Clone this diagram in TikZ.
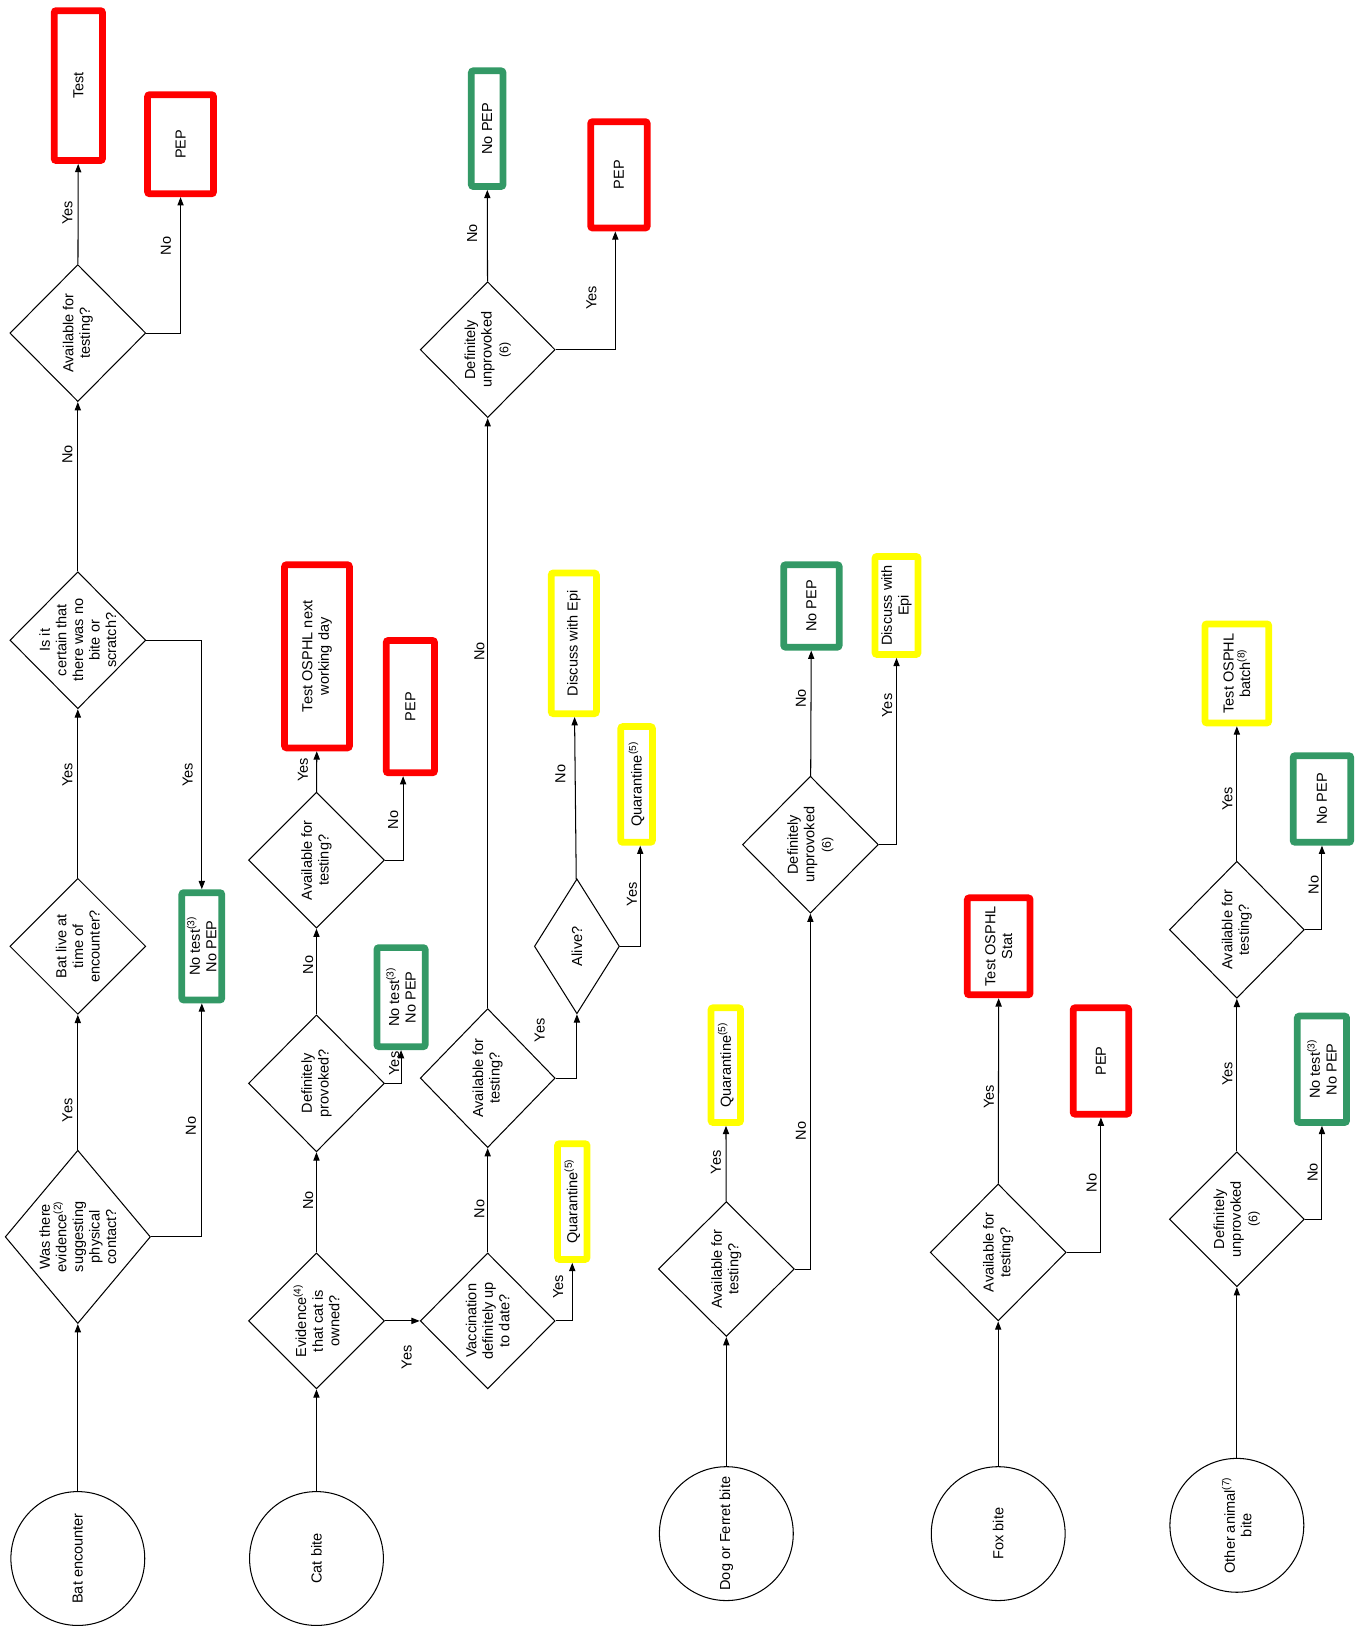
\documentclass[tikz,border=0pt]{standalone}
\usepackage{fontspec}
\setmainfont{Liberation Sans}
\usepackage{tikz}
\usetikzlibrary{arrows.meta,shapes.geometric}
\definecolor{pepred}{HTML}{FF0000}
\definecolor{nogreen}{HTML}{339966}
\definecolor{askyellow}{HTML}{FFFF00}
\newcommand{\notenum}[1]{{\fontsize{12}{14}\selectfont #1}}

\begin{document}
\begin{tikzpicture}[x=1pt,y=-1pt,font=\fontsize{14}{16}\selectfont,
  start/.style={circle,draw,line width=1pt,minimum size=129pt,inner sep=0pt,rotate=90,align=center},
  ask/.style={diamond,draw,line width=1pt,inner sep=-20pt,rotate=90,align=center},
  outcome/.style={draw,fill=white,line width=6.5pt,rounded corners=2pt,inner sep=0pt,rotate=90,align=center},
  pepbox/.style={outcome,draw=pepred},
  greenbox/.style={outcome,draw=nogreen},
  yellowbox/.style={outcome,draw=askyellow},
  lbl/.style={rotate=90,inner sep=0pt},
  arr/.style={-{Triangle[length=8pt,width=6pt]},line width=1pt}]
  \useasboundingbox (0,0) rectangle (1312,1568);

  \node[start] (bat) at (75,1502) {Bat encounter};
  \node[ask,minimum width=167,minimum height=140] (bcontact) at (75,1192) {Was there\\evidence\textsuperscript{(2)}\\suggesting\\physical\\contact?};
  \node[ask,minimum width=131,minimum height=131] (blive) at (75,912) {Bat live at\\time of\\encounter?};
  \node[ask,minimum width=132,minimum height=131] (bsure) at (75,617) {Is it\\certain that\\there was no\\bite or\\scratch?};
  \node[ask,minimum width=132,minimum height=131] (bavail) at (75,321) {Available for\\testing?};
  \node[pepbox,minimum width=144.5,minimum height=46.5] (btest) at (75.5,82.5) {Test};
  \node[pepbox,minimum width=95.5,minimum height=63.5] (bpep) at (174,139) {PEP};
  \node[greenbox,minimum width=103.5,minimum height=38.5] (bnotest) at (194.5,912) {No test\textsuperscript{(3)}\\No PEP};

  \node[start] (cat) at (305,1502) {Cat bite};
  \node[ask,minimum width=131,minimum height=131] (cowned) at (305,1273) {Evidence\textsuperscript{(4)}\\that cat is\\owned?};
  \node[ask,minimum width=132,minimum height=131] (cprov) at (305,1044) {Definitely\\provoked?};
  \node[ask,minimum width=131,minimum height=131] (cavail) at (305,829) {Available for\\testing?};
  \node[pepbox,minimum width=176.5,minimum height=62.5] (cnext) at (305.5,632.5) {Test OSPHL next\\working day};
  \node[pepbox,minimum width=127.5,minimum height=46.5] (cpep) at (395.5,681) {PEP};
  \node[greenbox,minimum width=95.5,minimum height=46.5] (cnotest) at (386.5,961) {No test\textsuperscript{(3)}\\No PEP};
  \node[ask,minimum width=131,minimum height=130] (cvacc) at (470,1273) {Vaccination\\definitely up\\to date?};
  \node[yellowbox,minimum width=111.5,minimum height=28.5] (cquar) at (551.5,1158) {Quarantine\textsuperscript{(5)}};
  \node[ask,minimum width=134,minimum height=130] (cvavail) at (470,1039) {Available for\\testing?};
  \node[ask,minimum width=130,minimum height=82] (calive) at (556,912) {Alive?};
  \node[yellowbox,minimum width=135.5,minimum height=43.5] (cepi) at (553,620) {Discuss with Epi};
  \node[yellowbox,minimum width=111.5,minimum height=30.5] (calquar) at (613.5,756) {Quarantine\textsuperscript{(5)}};
  \node[ask,minimum width=131,minimum height=130] (cunprov) at (470,337) {Definitely\\unprovoked\\\notenum{(6)}};
  \node[greenbox,minimum width=111.5,minimum height=30.5] (cnopep) at (469.5,124) {No PEP};
  \node[pepbox,minimum width=102.5,minimum height=54.5] (cunpep) at (596.5,168.5) {PEP};

  \node[start] (dog) at (700,1478) {Dog or Ferret bite};
  \node[ask,minimum width=130,minimum height=131] (davail) at (700,1223) {Available for\\testing?};
  \node[yellowbox,minimum width=110.5,minimum height=28.5] (dquar) at (699.5,1026.5) {Quarantine\textsuperscript{(5)}};
  \node[ask,minimum width=132,minimum height=131] (dunprov) at (781,814) {Definitely\\unprovoked\\\notenum{(6)}};
  \node[greenbox,minimum width=79.5,minimum height=53.5] (dnopep) at (782,584) {No PEP};
  \node[yellowbox,minimum width=94.5,minimum height=41.5] (depi) at (864,583.5) {Discuss with\\Epi};

  \node[start] (fox) at (962,1478) {Fox bite};
  \node[ask,minimum width=132,minimum height=131] (favail) at (962,1207) {Available for\\testing?};
  \node[pepbox,minimum width=93.5,minimum height=60.5] (fstat) at (962.5,912) {Test OSPHL\\Stat};
  \node[pepbox,minimum width=102.5,minimum height=53.5] (fpep) at (1061,1022.5) {PEP};

  \node[start] (other) at (1192,1470) {Other animal\textsuperscript{(7)}\\bite};
  \node[ask,minimum width=130,minimum height=130] (ounprov) at (1192,1175) {Definitely\\unprovoked\\\notenum{(6)}};
  \node[greenbox,minimum width=102.5,minimum height=47.5] (onotest) at (1274,1030.5) {No test\textsuperscript{(3)}\\No PEP};
  \node[ask,minimum width=132,minimum height=130] (oavail) at (1192,896) {Available for\\testing?};
  \node[yellowbox,minimum width=95.5,minimum height=61.5] (obatch) at (1192,649) {Test OSPHL\\batch\textsuperscript{(8)}};
  \node[greenbox,minimum width=83.5,minimum height=55.5] (onopep) at (1274,770) {No PEP};

  \draw[arr] (bat) -- (bcontact);
  \draw[arr] (bcontact) -- (blive);
  \draw[arr] (blive) -- (bsure);
  \draw[arr] (bsure) -- (bavail);
  \draw[arr] (bavail) -- (btest);
  \draw[arr] (bavail.south) -| (bpep);
  \draw[arr] (bsure.south) -| (bnotest);
  \draw[arr] (bcontact.south) -| (bnotest);

  \draw[arr] (cat) -- (cowned);
  \draw[arr] (cowned) -- (cprov);
  \draw[arr] (cprov) -- (cavail);
  \draw[arr] (cavail) -- (cnext);
  \draw[arr] (cavail.south) -| ([xshift=-7pt]cpep.west);
  \draw[arr] (cprov.south) -| (cnotest);
  \draw[arr] (cowned) -- (cvacc);
  \draw[arr] (cvacc.south) -| (cquar);
  \draw[arr] (cvacc) -- (cvavail);
  \draw[arr] (cvavail) -- (cunprov);
  \draw[arr] (cvavail.south) -| (calive);
  \draw[arr] (calive) -- (cepi);
  \draw[arr] (calive.south) -| ([xshift=3.5pt]calquar.west);
  \draw[arr] (cunprov) -- (cnopep);
  \draw[arr] (cunprov.south) -| ([xshift=-3.5pt]cunpep.west);

  \draw[arr] (dog) -- (davail);
  \draw[arr] (davail) -- (dquar);
  \draw[arr] (davail.south) -| (dunprov);
  \draw[arr] (dunprov) -- (dnopep);
  \draw[arr] (dunprov.south) -| (depi);

  \draw[arr] (fox) -- (favail);
  \draw[arr] (favail) -- (fstat);
  \draw[arr] (favail.south) -| (fpep);

  \draw[arr] (other) -- (ounprov);
  \draw[arr] (ounprov.south) -| (onotest);
  \draw[arr] (ounprov) -- (oavail);
  \draw[arr] (oavail) -- (obatch);
  \draw[arr] (oavail.south) -| (onopep);

  \foreach \x/\y/\t [count=\i] in {65/1070/Yes,65/747/Yes,65/438/No,65/205/Yes,160/237/No,181/747/Yes,184/1085/No,
      297/1157/No,297/930/No,292/742/Yes,379/790/No,380/1025/Yes,392/1308/Yes,462/1165/No,538/1240/Yes,
      462/628/No,520/993/Yes,540/746/No,609/862/Yes,455/225/No,570/287/Yes,
      690/1120/Yes,772/1090/No,772/673/No,855/680/Yes,953/1057/Yes,1052/1140/No,
      1265/1130/No,1183/1035/Yes,1183/770/Yes,1266/853/No}
    {\node[lbl] (lab\i) at (\x,\y) {\t};}
\end{tikzpicture}
\end{document}
